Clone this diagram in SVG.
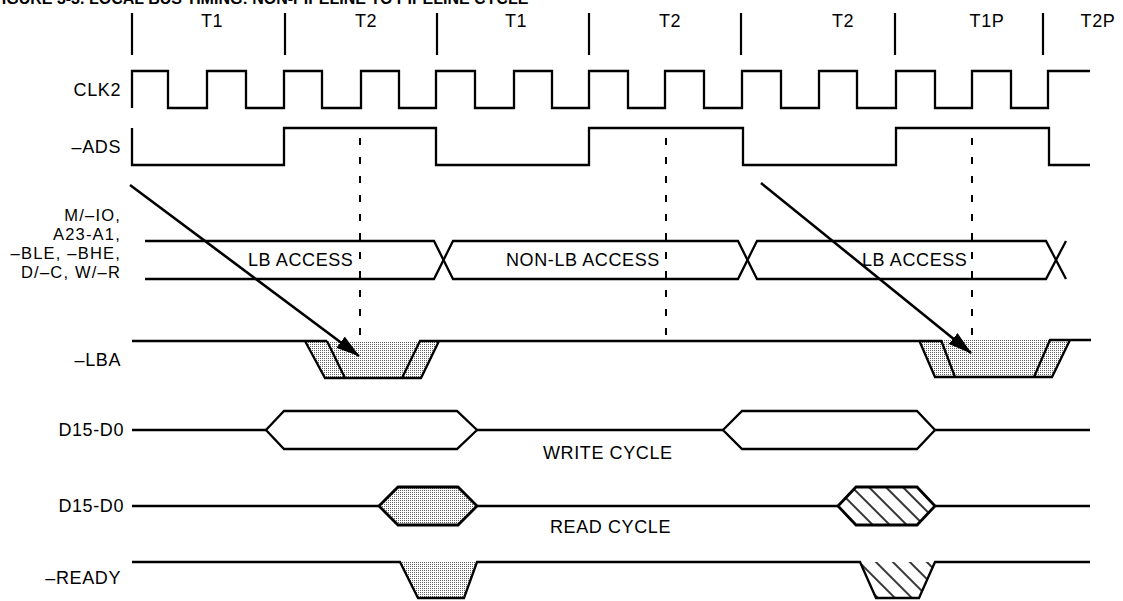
<svg xmlns="http://www.w3.org/2000/svg" width="1123" height="601" viewBox="0 0 1123 601">
<style>
 .w{fill:none;stroke:#000;stroke-width:2.3;stroke-linejoin:miter}
 .t{font-family:"Liberation Sans",Arial,Helvetica,sans-serif;font-size:18px;fill:#000;letter-spacing:0.6px}
 .s{font-size:16.5px;letter-spacing:1.2px}
 .lbl{text-anchor:end}
 .mid{text-anchor:middle}
 .tick{stroke:#000;stroke-width:2.2}
 .dash{stroke:#000;stroke-width:2;stroke-dasharray:7 12;fill:none}
 .arrow{stroke:#000;stroke-width:2.6;fill:none}
 .title{font-family:"Liberation Sans",Arial,sans-serif;font-size:16px;font-weight:bold;fill:#000}
</style>
<defs>
 <pattern id="dots" width="2" height="2" patternUnits="userSpaceOnUse"><rect width="2" height="2" fill="#fff"/><rect width="1" height="1" fill="#606060"/></pattern>
 <pattern id="hatch" width="12" height="12" patternUnits="userSpaceOnUse" patternTransform="rotate(-45)"><rect width="12" height="12" fill="#fff"/><line x1="6" y1="0" x2="6" y2="12" stroke="#000" stroke-width="1.6"/></pattern>
 <marker id="ah" markerWidth="24" markerHeight="14" refX="23" refY="7" orient="auto" markerUnits="userSpaceOnUse"><path d="M0,0 L24,7 L0,14 Z" fill="#000"/></marker>
</defs>
<rect width="1123" height="601" fill="#fff"/>
<text class="title" x="-8" y="4">FIGURE 3-3. LOCAL BUS TIMING: NON-PIPELINE TO PIPELINE CYCLE</text>

<g id="header">
 <line class="tick" x1="132" y1="13" x2="132" y2="55"/>
 <line class="tick" x1="285" y1="13" x2="285" y2="55"/>
 <line class="tick" x1="437" y1="13" x2="437" y2="55"/>
 <line class="tick" x1="589" y1="13" x2="589" y2="55"/>
 <line class="tick" x1="741" y1="13" x2="741" y2="55"/>
 <line class="tick" x1="895" y1="13" x2="895" y2="55"/>
 <line class="tick" x1="1043" y1="13" x2="1043" y2="55"/>
 <text class="t mid" x="212" y="27">T1</text>
 <text class="t mid" x="366" y="27">T2</text>
 <text class="t mid" x="516" y="27">T1</text>
 <text class="t mid" x="670" y="27">T2</text>
 <text class="t mid" x="843" y="27">T2</text>
 <text class="t mid" x="987" y="27">T1P</text>
 <text class="t mid" x="1098" y="27">T2P</text>
</g>

<g id="clk2">
 <text class="t lbl" x="121" y="96">CLK2</text>
 <path class="w" d="M132,108 V71 H168 V108 H207 V71 H246 V108 H284 V71 H322 V108 H361 V71 H399 V108 H436 V71 H475 V108 H514 V71 H552 V108 H589 V71 H628 V108 H665 V71 H704 V108 H742 V71 H781 V108 H819 V71 H857 V108 H896 V71 H935 V108 H972 V71 H1011 V108 H1048 V71 H1090"/>
</g>

<g id="ads">
 <text class="t lbl" x="121" y="153">–ADS</text>
 <path class="w" d="M132,128 V165 H284 V128 H436 V165 H589 V128 H743 V165 H896 V128 H1049 V165 H1090"/>
</g>

<g id="bus">
 <text class="t s lbl" x="121" y="221">M/–IO,</text>
 <text class="t s lbl" x="121" y="240">A23-A1,</text>
 <text class="t s lbl" x="121" y="259">–BLE, –BHE,</text>
 <text class="t s lbl" x="121" y="278">D/–C, W/–R</text>
 <path class="w" d="M145,241 H434 L453,279 H738 L757,241 H1046 L1066,279"/>
 <path class="w" d="M145,279 H434 L453,241 H738 L757,279 H1046 L1066,241"/>
 <text class="t" x="248" y="266">LB ACCESS</text>
 <text class="t" x="506" y="266">NON-LB ACCESS</text>
 <text class="t" x="862" y="266">LB ACCESS</text>
</g>

<g id="lba">
 <text class="t lbl" x="121" y="366">–LBA</text>
 <polygon points="305,341 439,341 421,378 325,378" fill="url(#dots)"/>
 <polygon points="919,340 1070,340 1052,377 935,377" fill="url(#dots)"/>
 <path class="w" d="M132,341 H327 M305,341 L325,378 H421 L439,341 M327,341 L345,378 M402,378 L420,341 H941 M919,340 L935,377 H1052 L1070,340 M941,340 L955,377 M1034,377 L1050,340 H1091"/>
</g>

<g id="d-write">
 <text class="t lbl" x="124" y="436">D15-D0</text>
 <path class="w" d="M132,430 H266 M477,430 H723 M935,430 H1090"/>
 <polygon class="w" points="266,430 284,411 457,411 477,430 457,449 284,449" fill="#fff"/>
 <polygon class="w" points="723,430 742,411 917,411 935,430 917,449 742,449" fill="#fff"/>
 <text class="t" x="543" y="459">WRITE CYCLE</text>
</g>

<g id="d-read">
 <text class="t lbl" x="124" y="512">D15-D0</text>
 <path class="w" d="M132,506 H379 M477,506 H838 M935,506 H1090"/>
 <polygon points="379,506 398,487 458,487 477,506 458,525 398,525" fill="url(#dots)" stroke="#000" stroke-width="2.8" stroke-linejoin="miter"/>
 <polygon points="838,506 856,487 917,487 935,506 917,525 856,525" fill="url(#hatch)" stroke="#000" stroke-width="2.8" stroke-linejoin="miter"/>
 <text class="t" x="550" y="533">READ CYCLE</text>
</g>

<g id="ready">
 <text class="t lbl" x="121" y="584">–READY</text>
 <polygon points="400,562 477,562 464,598 418,598" fill="url(#dots)"/>
 <polygon points="860,562 935,562 919,598 876,598" fill="url(#hatch)"/>
 <path class="w" d="M132,562 H400 L418,598 H464 L477,562 H860 L876,598 H919 L935,562 H1090"/>
</g>

<g id="connectors">
 <line class="dash" x1="360" y1="138" x2="360" y2="337"/>
 <line class="dash" x1="666" y1="138" x2="666" y2="337"/>
 <line class="dash" x1="972" y1="138" x2="972" y2="337"/>
 <line class="arrow" x1="130" y1="185" x2="359" y2="356" marker-end="url(#ah)"/>
 <line class="arrow" x1="761" y1="183" x2="971" y2="353" marker-end="url(#ah)"/>
</g>
</svg>
